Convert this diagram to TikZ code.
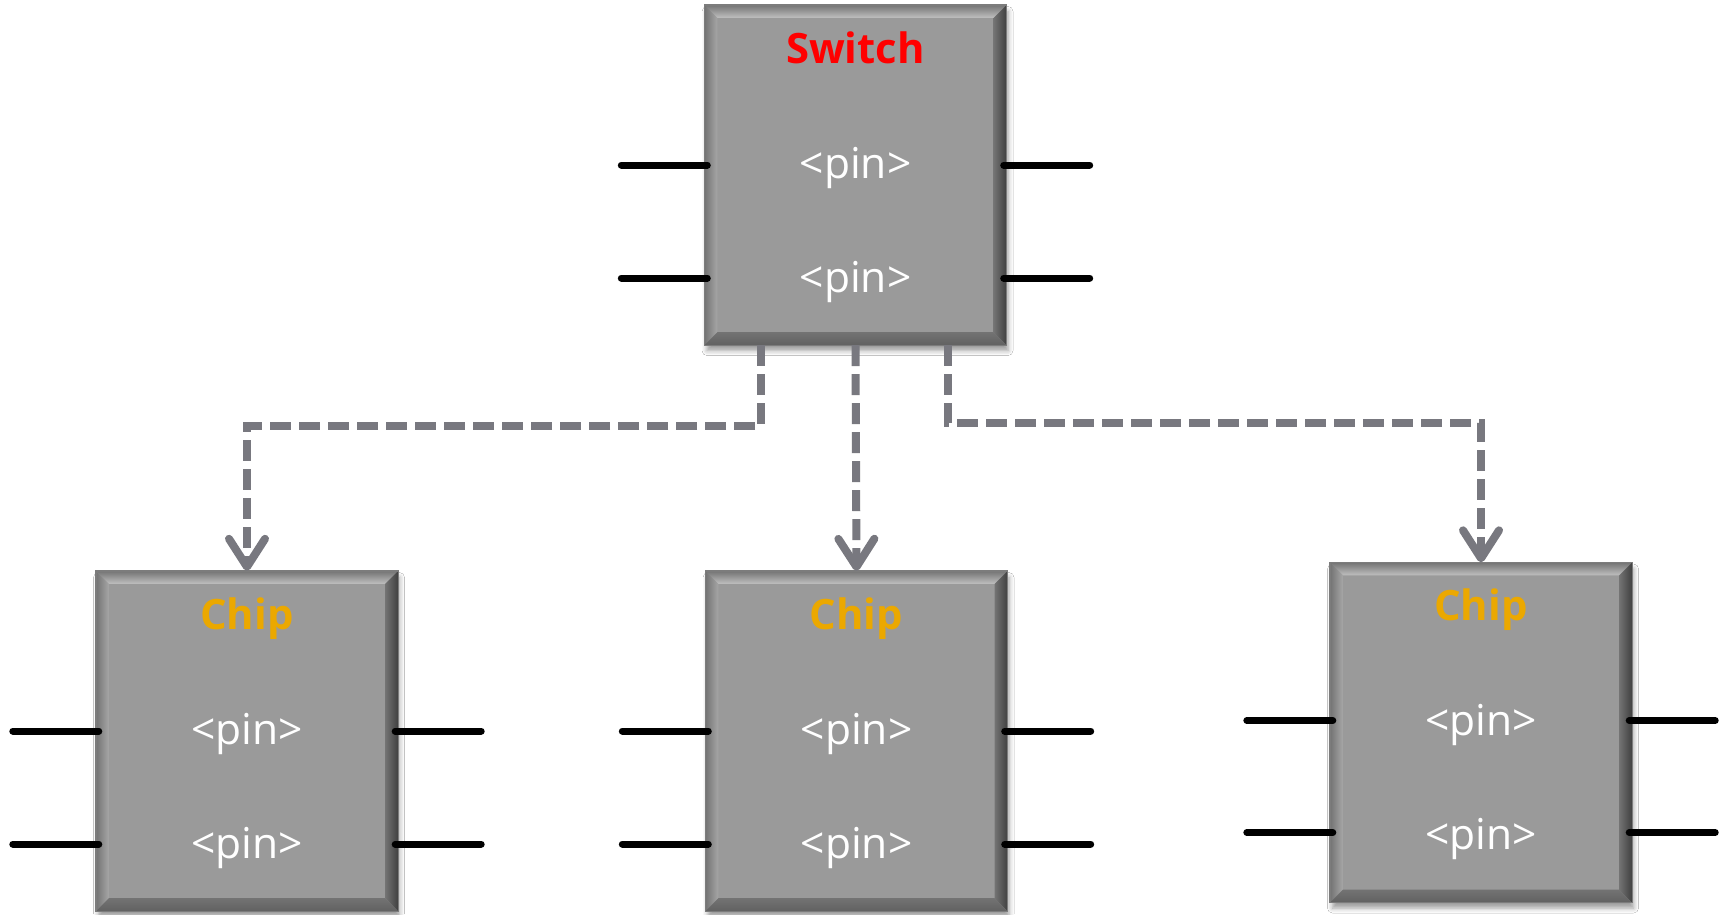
\documentclass[tikz,border=0pt]{standalone}
\usepackage{fontspec}
\setmainfont{Open Sans}
\usetikzlibrary{arrows.meta,calc,shadows.blur}

\definecolor{bodygray}{HTML}{9A9A9A}
\definecolor{edgegray}{HTML}{7C7C7C}
\definecolor{linkgray}{HTML}{78787F}
\definecolor{switchred}{HTML}{FF0000}
\definecolor{chiporange}{HTML}{EBA800}

\tikzset{
  unitbox/.style={rectangle, inner sep=0pt, minimum width=3.01cm, minimum height=3.39cm,
    fill=bodygray, draw=edgegray, line width=0.4pt,
    blur shadow={shadow xshift=0.02cm, shadow yshift=-0.06cm, shadow blur radius=0.05cm, shadow opacity=40}},
  titletext/.style={font=\fontsize{11.9}{14}\selectfont\bfseries, inner sep=0pt, anchor=base},
  pintext/.style={font=\fontsize{12.1}{14}\selectfont, text=white, inner sep=0pt, anchor=base},
  pinline/.style={line width=0.07cm, line cap=round, draw=black},
  link/.style={draw=linkgray, line width=0.08cm, dash pattern=on 0.21cm off 0.08cm,
    -{Straight Barb[length=0.28cm,width=0.36cm,round]}},
}

% bevelled frame drawn inside a box node
\newcommand\bevelframe[1]{%
  \def\bv{0.13}%
  \shade[top color=gray!90!black, bottom color=gray!50] (#1.north west) -- (#1.north east)
     -- ($(#1.north east)+(-\bv,-\bv)$) -- ($(#1.north west)+(\bv,-\bv)$) -- cycle;
  \shade[left color=gray!90!black, right color=gray!70] (#1.north west) -- ($(#1.north west)+(\bv,-\bv)$)
     -- ($(#1.south west)+(\bv,\bv)$) -- (#1.south west) -- cycle;
  \shade[left color=gray!90!black, right color=black!75] (#1.north east) -- (#1.south east)
     -- ($(#1.south east)+(-\bv,\bv)$) -- ($(#1.north east)+(-\bv,-\bv)$) -- cycle;
  \shade[top color=gray!90!black, bottom color=black!62] (#1.south west) -- ($(#1.south west)+(\bv,\bv)$)
     -- ($(#1.south east)+(-\bv,\bv)$) -- (#1.south east) -- cycle;
  \draw[edgegray, line width=0.4pt] (#1.north west) rectangle (#1.south east);
}

% four pin stubs on the sides of a box node
\newcommand\pinstubs[3]{% box, upper offset, lower offset
  \coordinate (#1-l1) at ($(#1.west)+(0.03,#2)$);
  \coordinate (#1-l2) at ($(#1.west)+(0.03,#3)$);
  \coordinate (#1-r1) at ($(#1.east)+(-0.03,#2)$);
  \coordinate (#1-r2) at ($(#1.east)+(-0.03,#3)$);
  \coordinate (#1-l1o) at ($(#1-l1)+(-0.86,0)$);
  \coordinate (#1-l2o) at ($(#1-l2)+(-0.86,0)$);
  \coordinate (#1-r1o) at ($(#1-r1)+(0.86,0)$);
  \coordinate (#1-r2o) at ($(#1-r2)+(0.86,0)$);
  \draw[pinline] (#1-l1) -- (#1-l1o);
  \draw[pinline] (#1-l2) -- (#1-l2o);
  \draw[pinline] (#1-r1) -- (#1-r1o);
  \draw[pinline] (#1-r2) -- (#1-r2o);
}

% labels of a box node
\newcommand\unitlabels[4]{% box, title, colour, label-name prefix
  \node[titletext, text=#3] (#4-title) at ($(#1.center)+(0,1.12)$) {#2};
  \node[pintext] (#4-pin1) at ($(#1.center)+(0,-0.03)$) {<pin>};
  \node[pintext] (#4-pin2) at ($(#1.center)+(0,-1.17)$) {<pin>};
}

\begin{document}
\begin{tikzpicture}
  \useasboundingbox[fill=white] (0,0) rectangle (17.27,-9.14);

  % boxes
  \node[unitbox] (sw) at (8.555,-1.75) {};
  \node[unitbox] (c1) at (2.47,-7.41) {};
  \node[unitbox] (c2) at (8.565,-7.41) {};
  \node[unitbox] (c3) at (14.81,-7.325) {};

  \foreach \b in {sw,c1,c2,c3} {\bevelframe{\b}}

  % pins
  \pinstubs{sw}{0.10}{-1.03}
  \pinstubs{c1}{0.10}{-1.03}
  \pinstubs{c2}{0.10}{-1.03}
  \pinstubs{c3}{0.12}{-1.00}

  % labels
  \unitlabels{sw}{Switch}{switchred}{swl}
  \unitlabels{c1}{Chip}{chiporange}{c1l}
  \unitlabels{c2}{Chip}{chiporange}{c2l}
  \unitlabels{c3}{Chip}{chiporange}{c3l}

  % control links from the switch
  \coordinate (sw-o1) at ($(sw.south)+(-0.945,0)$);
  \coordinate (sw-o3) at ($(sw.south)+(0.925,0)$);
  \coordinate (k1) at ($(sw-o1)+(0,-0.81)$);
  \coordinate (k3) at ($(sw-o3)+(0,-0.78)$);
  \draw[link] (sw-o1) -- (k1) -| (c1.north);
  \draw[link] (sw.south) -- (c2.north);
  \draw[link] (sw-o3) -- (k3) -| (c3.north);
\end{tikzpicture}
\end{document}
